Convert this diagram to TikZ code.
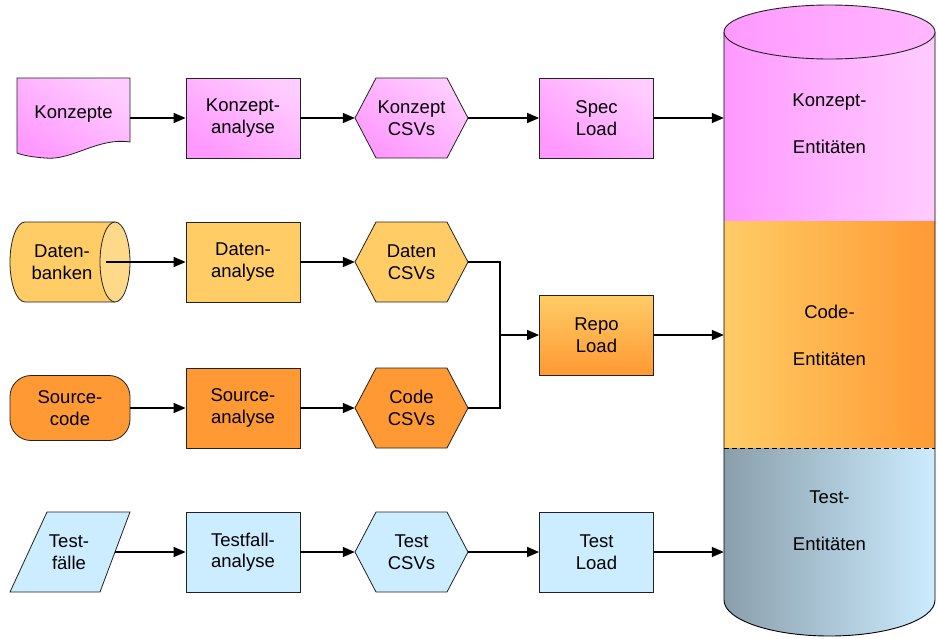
\documentclass[tikz,border=0pt]{standalone}
\usepackage{fontspec}
\setmainfont{Liberation Sans}
\usetikzlibrary{arrows.meta}
\definecolor{pinkL}{HTML}{FFCCFF}
\definecolor{pinkD}{HTML}{FF99FF}
\definecolor{orL}{HTML}{FFCC66}
\definecolor{orLL}{HTML}{FFD98A}
\definecolor{orD}{HTML}{FF9933}
\definecolor{blueL}{HTML}{CCECFF}
\definecolor{grayB}{HTML}{8A9FAC}
\definecolor{edge}{HTML}{222222}
\tikzset{
  lbl/.style={font=\fontsize{18.5}{21.5}\selectfont, align=center, text=black,
    execute at begin node={\rule{0pt}{17pt}}},
  biglbl/.style={font=\fontsize{18.5}{47}\selectfont, align=center, text=black},
  boxshape/.style={lbl, draw=edge, line width=0.8pt, minimum width=114pt, minimum height=80pt, inner sep=0pt},
  ghost/.style={lbl, minimum width=113pt, minimum height=80pt, inner sep=0pt},
  outl/.style={draw=edge, line width=0.8pt},
  pinkfill/.style={top color=pinkL, bottom color=pinkD, shading angle=-35},
  orLfill/.style={fill=orL},
  orDfill/.style={fill=orD},
  bluefill/.style={fill=blueL},
  repofill/.style={top color=orL, bottom color=orD},
  conn/.style={line width=1.4pt, -{Triangle[length=12pt,width=10pt]}},
  plainline/.style={line width=1.4pt}
}
\newcommand{\myhex}[4]{%
  \begin{scope}[shift={#2}]
    \path[#3, outl] (-56.5,0) -- (-35.5,40) -- (35.5,40) -- (56.5,0) -- (35.5,-40) -- (-35.5,-40) -- cycle;
  \end{scope}
  \node[ghost] (#1) at #2 {#4};}
\begin{document}
\begin{tikzpicture}[x=1pt,y=1pt]
\useasboundingbox (0,0) rectangle (938,-638);

% ---------- big cylinder ----------
\shade[left color=pinkD, right color=pinkL] (724,-32) rectangle (935,-221);
\shade[left color=orL, right color=orD] (724,-221) rectangle (935,-448);
\shade[left color=grayB, right color=blueL] (724,-448) -- (724,-600)
  arc[start angle=180, end angle=360, x radius=105.5pt, y radius=36pt] -- (935,-448) -- cycle;
\draw[line width=0.9pt] (724,-32) -- (724,-600)
  arc[start angle=180, end angle=360, x radius=105.5pt, y radius=36pt] -- (935,-32);
\shade[left color=pinkD, right color=pinkL!60!pinkD, outl, line width=0.9pt] (829.5,-32) ellipse [x radius=105.5pt, y radius=27pt];
\draw[dashed, line width=0.9pt, dash pattern=on 5pt off 3pt] (724,-448) -- (935,-448);
\node[minimum width=211pt, minimum height=600pt, inner sep=0pt] (ent) at (829.5,-320) {};
\node[biglbl] (entk) at (829.5,-124) {Konzept-\\Entitäten};
\node[biglbl] (entc) at (829.5,-335) {Code-\\Entitäten};
\node[biglbl] (entt) at (829.5,-521) {Test-\\Entitäten};

% ---------- row 1 ----------
\path[pinkfill, outl] (17,-78) -- (130,-78) -- (130,-142)
  .. controls (98,-137) and (72,-161) .. (45,-158)
  .. controls (31,-157) and (22,-155) .. (17,-153) -- cycle;
\node[ghost] (kz) at (73.5,-112) {Konzepte};
\node[boxshape, pinkfill] (ka) at (243,-118) {Konzept-\\analyse};
\myhex{kc}{(411.5,-118)}{pinkfill}{Konzept\\CSVs}
\node[boxshape, pinkfill] (sl) at (596.5,-118) {Spec\\Load};

% ---------- row 2 ----------
\path[orLfill, outl] (115,-222) -- (25,-222)
  arc[start angle=90, end angle=270, x radius=15pt, y radius=40pt] -- (115,-302);
\draw[outl, fill=orLL] (115,-262) ellipse [x radius=15pt, y radius=40pt];
\node[ghost, minimum width=90pt] (dbk) at (62,-262) {Daten-\\banken};
\coordinate (dbout) at (106,-262);
\node[boxshape, orLfill] (da) at (243,-262) {Daten-\\analyse};
\myhex{dc}{(411.5,-262)}{orLfill}{Daten\\CSVs}

% ---------- row 3 ----------
\node[lbl, outl, orDfill, rounded corners=21pt, minimum width=120pt, minimum height=65pt, inner sep=0pt] (sc) at (70,-408) {Source-\\code};
\node[boxshape, orDfill] (sa) at (243,-408) {Source-\\analyse};
\myhex{cc}{(411.5,-408)}{orDfill}{Code\\CSVs}
\node[boxshape, repofill] (rl) at (596.5,-335) {Repo\\Load};

% ---------- row 4 ----------
\path[bluefill, outl] (47,-512) -- (130,-512) -- (100,-592) -- (10,-592) -- cycle;
\node[ghost, minimum width=90pt] (tf) at (69,-552) {Test-\\fälle};
\coordinate (tfout) at (115,-552);
\node[boxshape, bluefill] (ta) at (243,-552) {Testfall-\\analyse};
\myhex{tc}{(411.5,-552)}{bluefill}{Test\\CSVs}
\node[boxshape, bluefill] (tl) at (596.5,-552) {Test\\Load};

% ---------- connectors ----------
\draw[conn] (kz.east |- ka.west) -- (ka.west);
\draw[conn] (ka) -- (kc);
\draw[conn] (kc) -- (sl);
\draw[conn] (sl) -- (sl -| ent.west);

\draw[conn] (dbout) -- (da.west);
\draw[conn] (da) -- (dc);
\coordinate (j1) at (500,-262);
\coordinate (j2) at (500,-408);
\coordinate (jn) at (500,-335);
\draw[plainline] (dc.east) -- (j1) -- (j2) -- (cc.east);
\draw[conn] (jn) -- (rl.west);
\draw[conn] (rl) -- (rl -| ent.west);

\draw[conn] (sc) -- (sa);
\draw[conn] (sa) -- (cc);

\draw[conn] (tfout) -- (ta.west);
\draw[conn] (ta) -- (tc);
\draw[conn] (tc) -- (tl);
\draw[conn] (tl) -- (tl -| ent.west);
\end{tikzpicture}
\end{document}
